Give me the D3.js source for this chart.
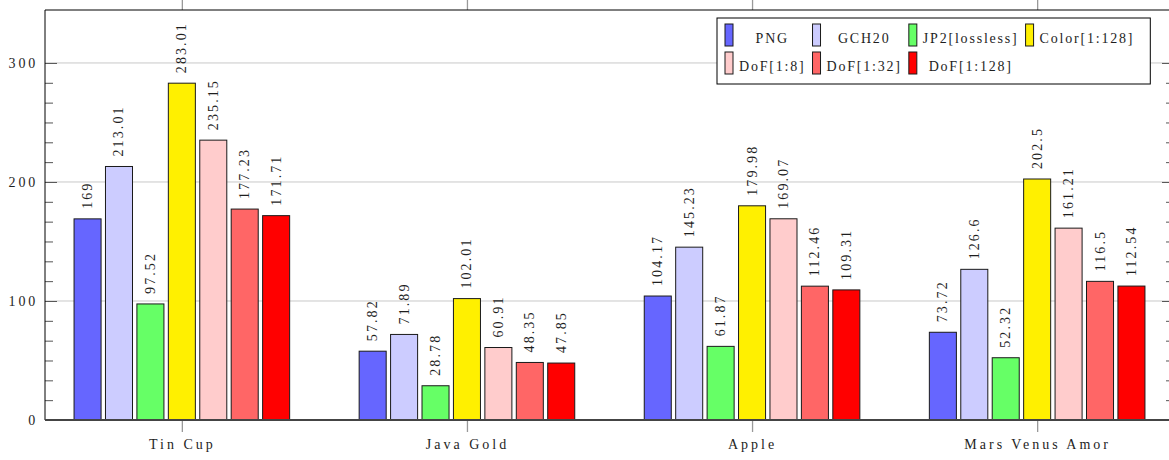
<!DOCTYPE html>
<html>
<head>
<meta charset="utf-8">
<script src="https://cdn.jsdelivr.net/npm/d3@7"></script>
<style>
  html, body { margin: 0; padding: 0; background: #fff; }
  svg { display: block; }
  text { font-family: "Liberation Serif", "DejaVu Serif", serif; fill: #1e1e1e; }
</style>
</head>
<body>
<svg id="chart" width="1169" height="460"></svg>
<script>
// Categories and per-series values
const categories = ["Tin Cup", "Java Gold", "Apple", "Mars Venus Amor"];
const seriesNames = ["PNG", "GCH20", "JP2[lossless]", "Color[1:128]", "DoF[1:8]", "DoF[1:32]", "DoF[1:128]"];
const seriesColors = ["#6666ff", "#ccccff", "#66ff66", "#fff000", "#ffcccc", "#ff6666", "#ff0000"];

const png      = [169, 57.82, 104.17, 73.72];
const gch20    = [213.01, 71.89, 145.23, 126.6];
const jp2      = [97.52, 28.78, 61.87, 52.32];
const color128 = [283.01, 102.01, 179.98, 202.5];
const dof8     = [235.15, 60.91, 169.07, 161.21];
const dof32    = [177.23, 48.35, 112.46, 116.5];
const dof128   = [171.71, 47.85, 109.31, 112.54];

const yTicks = [0, 100, 200, 300];
const yMax = 344.5;

const seriesValues = [png, gch20, jp2, color128, dof8, dof32, dof128];

const svg = d3.select("#chart");
const plotLeft = 45, plotRight = 1174, plotTop = 10, plotBottom = 420;

// Scales
const x = d3.scalePoint().domain(categories).range([plotLeft, plotRight]).padding(0.48);
const inner = d3.scaleBand().domain(seriesNames).range([-110, 110]).paddingInner(0.14).paddingOuter(0.07);
const y = d3.scaleLinear().domain([0, yMax]).range([plotBottom, plotTop]);

// Minor tick values (5 between each pair of major ticks)
const minorTicks = [];
for (let i = 0; i < yTicks.length - 1; i++) {
  const a = yTicks[i], b = yTicks[i + 1];
  for (let k = 1; k <= 5; k++) minorTicks.push(a + (b - a) * k / 6);
}

// Grid lines
svg.append("g").selectAll("line").data(yTicks.slice(1)).join("line")
  .attr("x1", plotLeft).attr("x2", plotRight)
  .attr("y1", d => y(d)).attr("y2", d => y(d))
  .attr("stroke", "#c8c8c8").attr("stroke-width", 1);

// Bars with rotated value labels
const groups = svg.append("g").selectAll("g").data(categories).join("g")
  .attr("transform", d => `translate(${x(d)},0)`);

groups.each(function(cat, ci) {
  const g = d3.select(this);
  const rows = seriesNames.map((s, si) => ({ s, si, v: seriesValues[si][ci] }));
  g.selectAll("rect").data(rows).join("rect")
    .attr("x", d => inner(d.s))
    .attr("width", inner.bandwidth())
    .attr("y", d => y(d.v))
    .attr("height", d => y(0) - y(d.v))
    .attr("fill", d => seriesColors[d.si])
    .attr("stroke", "#1a1a1a").attr("stroke-width", 1);
  g.selectAll("text").data(rows).join("text")
    .attr("transform", d => `translate(${inner(d.s) + inner.bandwidth() / 2},${y(d.v) - 10}) rotate(-90)`)
    .attr("dominant-baseline", "central")
    .attr("text-anchor", "start")
    .style("font-size", "14px")
    .style("letter-spacing", "2.1px")
    .text(d => String(d.v));
});

// Y axes (ticks point inward)
function styleAxis(g) {
  g.select(".domain").remove();
  g.selectAll(".tick line").attr("stroke", "#555");
}
svg.append("g").attr("transform", `translate(${plotLeft},0)`)
  .call(d3.axisLeft(y).tickValues(minorTicks).tickSize(-8).tickFormat(""))
  .call(styleAxis);
const yAxisL = svg.append("g").attr("transform", `translate(${plotLeft},0)`)
  .call(d3.axisLeft(y).tickValues(yTicks).tickSize(-12).tickPadding(7))
  .call(styleAxis);
yAxisL.attr("font-family", null);
yAxisL.selectAll("text")
  .attr("fill", "#1e1e1e")
  .style("font-size", "14px").style("letter-spacing", "2.8px");
svg.append("g").attr("transform", `translate(${plotRight},0)`)
  .call(d3.axisRight(y).tickValues(minorTicks).tickSize(-8).tickFormat(""))
  .call(styleAxis);
svg.append("g").attr("transform", `translate(${plotRight},0)`)
  .call(d3.axisRight(y).tickValues(yTicks).tickSize(-12).tickFormat(""))
  .call(styleAxis);

// X axes (ticks point outward)
const xAxisB = svg.append("g").attr("transform", `translate(0,${plotBottom})`)
  .call(d3.axisBottom(x).tickSize(12).tickPadding(7));
xAxisB.attr("font-family", null);
xAxisB.select(".domain").remove();
xAxisB.selectAll(".tick line").attr("stroke", "#999").attr("stroke-width", 1.3);
xAxisB.selectAll("text")
  .attr("fill", "#1e1e1e")
  .style("font-size", "14px").style("letter-spacing", "3px");
const xAxisT = svg.append("g").attr("transform", `translate(0,${plotTop})`)
  .call(d3.axisTop(x).tickSize(10).tickFormat(""));
xAxisT.select(".domain").remove();
xAxisT.selectAll(".tick line").attr("stroke", "#999").attr("stroke-width", 1.3);

// Frame
svg.append("line").attr("x1", plotLeft).attr("x2", plotRight).attr("y1", plotTop).attr("y2", plotTop)
  .attr("stroke", "#000").attr("stroke-width", 1);
svg.append("line").attr("x1", plotLeft).attr("x2", plotLeft).attr("y1", plotTop).attr("y2", plotBottom)
  .attr("stroke", "#000").attr("stroke-width", 1);
svg.append("line").attr("x1", plotRight).attr("x2", plotRight).attr("y1", plotTop).attr("y2", plotBottom)
  .attr("stroke", "#000").attr("stroke-width", 1);
svg.append("line").attr("x1", plotLeft).attr("x2", plotRight).attr("y1", plotBottom).attr("y2", plotBottom)
  .attr("stroke", "#444").attr("stroke-width", 2);

// Legend: 4 columns, 2 rows, text centred in each column
const cols = 4;
const legend = svg.append("g").attr("transform", "translate(717,18)");
const box = legend.append("rect").attr("fill", "#fff").attr("stroke", "#000").attr("stroke-width", 1);
const items = seriesNames.map((n, i) => ({ name: n, color: seriesColors[i], col: i % cols, row: Math.floor(i / cols) }));
const texts = legend.selectAll("text.lg").data(items).join("text")
  .attr("class", "lg")
  .style("font-size", "14px").style("letter-spacing", "1.8px")
  .attr("dominant-baseline", "central")
  .attr("text-anchor", "middle")
  .text(d => d.name);
const colW = d3.range(cols).map(() => 0);
texts.each(function(d) { colW[d.col] = Math.max(colW[d.col], this.getComputedTextLength()); });
const colX = [];
let cx = 8;
for (let c = 0; c < cols; c++) {
  colX.push(cx);
  cx += 8 + 6 + colW[c] + 7;
}
const rowY = [20, 48];
legend.selectAll("rect.sw").data(items).join("rect")
  .attr("class", "sw")
  .attr("x", d => colX[d.col]).attr("y", d => rowY[d.row] - 14)
  .attr("width", 8).attr("height", 22)
  .attr("fill", d => d.color).attr("stroke", "#1a1a1a").attr("stroke-width", 1);
texts.attr("x", d => colX[d.col] + 14 + colW[d.col] / 2).attr("y", d => rowY[d.row]);
box.attr("x", 0).attr("y", 0).attr("width", cx - 7 + 16).attr("height", 66);
</script>
</body>
</html>
